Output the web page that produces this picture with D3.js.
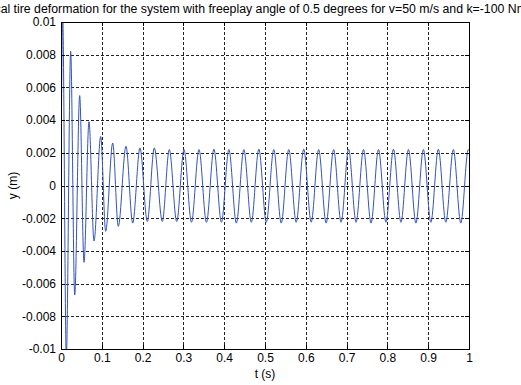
<!DOCTYPE html>
<html>
<head>
<meta charset="utf-8">
<script src="https://cdn.jsdelivr.net/npm/d3@7"></script>
<style>
  body { margin: 0; background: #fff; }
  text { font-family: "Liberation Sans", Arial, Helvetica, sans-serif; fill: #000; }
  .grid line { stroke: #222; stroke-width: 1; stroke-dasharray: 3,2; shape-rendering: crispEdges; }
  .axis path, .axis line { stroke: #000; shape-rendering: crispEdges; }
</style>
</head>
<body>
<svg id="chart" width="521" height="385"></svg>
<script>
// time of each turning point (s) and tire deformation there (m)
var tPts = [0, 0.004, 0.013, 0.0237, 0.0336, 0.0458, 0.0564, 0.0686, 0.0809, 0.0973, 0.1095,
  0.1267, 0.1404, 0.1593, 0.1757, 0.1936, 0.2115, 0.2287, 0.2483, 0.2654, 0.2836,
  0.3015, 0.3198, 0.3382, 0.3565, 0.3748, 0.3932, 0.4115, 0.4298, 0.4482, 0.4665,
  0.4849, 0.5032, 0.5215, 0.5398, 0.5582, 0.5765, 0.5949, 0.6132, 0.6315, 0.6499,
  0.6682, 0.6865, 0.7049, 0.7232, 0.7415, 0.7599, 0.7782, 0.7965, 0.8149, 0.8332,
  0.8516, 0.8699, 0.8882, 0.9065, 0.9249, 0.9432, 0.9616, 0.9799, 0.9982, 1.0];
var yPts = [0, 0.0105, -0.0105, 0.0082, -0.0067, 0.0055, -0.0047, 0.0039, -0.0034, 0.0030, -0.0028,
  0.0026, -0.0025, 0.0024, -0.0023, 0.0023, -0.0022, 0.0023, -0.0022, 0.0022, -0.0022,
  0.0022, -0.00225, 0.0022, -0.00225, 0.00222, -0.00225, 0.0022, -0.0023, 0.0022, -0.00225,
  0.00222, -0.00225, 0.0022, -0.0023, 0.0022, -0.00225, 0.00222, -0.00225, 0.0022, -0.0023,
  0.0022, -0.00225, 0.00222, -0.00225, 0.0022, -0.0023, 0.0022, -0.00225, 0.00222, -0.00225,
  0.0022, -0.0023, 0.0022, -0.00225, 0.00222, -0.00225, 0.0022, -0.0023, 0.0022, 0.00215];

var xTicks = [0, 0.1, 0.2, 0.3, 0.4, 0.5, 0.6, 0.7, 0.8, 0.9, 1];
var xTickLabels = ["0", "0.1", "0.2", "0.3", "0.4", "0.5", "0.6", "0.7", "0.8", "0.9", "1"];
var yTicks = [0.01, 0.008, 0.006, 0.004, 0.002, 0, -0.002, -0.004, -0.006, -0.008, -0.01];
var yTickLabels = ["0.01", "0.008", "0.006", "0.004", "0.002", "0", "-0.002", "-0.004", "-0.006", "-0.008", "-0.01"];

var svg = d3.select("#chart");
var pLeft = 61, pRight = 469, pTop = 22, pBottom = 349;

var x = d3.scaleLinear().domain([0, 1]).range([pLeft, pRight]);
var y = d3.scaleLinear().domain([-0.01, 0.01]).range([pBottom, pTop]);

//grid
var grid = svg.append("g").attr("class", "grid");
grid.selectAll(".gx")
  .data(xTicks.slice(1, -1))
  .enter().append("line")
  .attr("x1", function(d){ return Math.round(x(d)) + 0.5; })
  .attr("x2", function(d){ return Math.round(x(d)) + 0.5; })
  .attr("y1", pTop).attr("y2", pBottom);
grid.selectAll(".gy")
  .data(yTicks.slice(1, -1))
  .enter().append("line")
  .attr("y1", function(d){ return Math.round(y(d)) + 0.5; })
  .attr("y2", function(d){ return Math.round(y(d)) + 0.5; })
  .attr("x1", pLeft).attr("x2", pRight);

//signal
svg.append("clipPath").attr("id", "clip")
  .append("rect")
  .attr("x", pLeft).attr("y", pTop)
  .attr("width", pRight - pLeft).attr("height", pBottom - pTop);

var line = d3.line()
  .x(function(d, i){ return x(tPts[i]); })
  .y(function(d){ return y(d); })
  .curve(d3.curveMonotoneX);

svg.append("path")
  .attr("clip-path", "url(#clip)")
  .attr("d", line(yPts))
  .attr("fill", "none")
  .attr("stroke", "#3353be")
  .attr("stroke-width", 1);

//axes, ticks pointing inwards
var fs = "12px";
svg.append("g").attr("class", "axis")
  .attr("transform", "translate(0," + pBottom + ")")
  .call(d3.axisBottom(x).tickValues(xTicks).tickSize(-4).tickPadding(4)
    .tickFormat(function(d, i){ return xTickLabels[i]; }))
  .call(function(g){ g.select(".domain").remove(); })
  .selectAll("text").style("font-size", fs);

svg.append("g").attr("class", "axis")
  .attr("transform", "translate(0," + pTop + ")")
  .call(d3.axisTop(x).tickValues(xTicks).tickSize(-4).tickFormat(""))
  .call(function(g){ g.select(".domain").remove(); });

svg.append("g").attr("class", "axis")
  .attr("transform", "translate(" + pLeft + ",0)")
  .call(d3.axisLeft(y).tickValues(yTicks).tickSize(-4).tickPadding(5)
    .tickFormat(function(d, i){ return yTickLabels[i]; }))
  .call(function(g){ g.select(".domain").remove(); })
  .selectAll("text").style("font-size", fs);

svg.append("g").attr("class", "axis")
  .attr("transform", "translate(" + pRight + ",0)")
  .call(d3.axisRight(y).tickValues(yTicks).tickSize(-4).tickFormat(""))
  .call(function(g){ g.select(".domain").remove(); });

svg.selectAll(".axis").attr("font-family", null);

svg.append("rect")
  .attr("x", pLeft + 0.5).attr("y", pTop + 0.5)
  .attr("width", pRight - pLeft).attr("height", pBottom - pTop)
  .attr("fill", "none").attr("stroke", "#000");

//labels
svg.append("text")
  .attr("x", 259).attr("y", 12.5)
  .attr("text-anchor", "middle")
  .style("font-size", "12.3px")
  .text("Vertical tire deformation for the system with freeplay angle of 0.5 degrees for v=50 m/s and k=-100 Nm/rad");

svg.append("text")
  .attr("x", (pLeft + pRight) / 2).attr("y", 378)
  .attr("text-anchor", "middle")
  .style("font-size", "12px")
  .text("t (s)");

svg.append("text")
  .attr("transform", "translate(17," + ((pTop + pBottom) / 2) + ") rotate(-90)")
  .attr("text-anchor", "middle")
  .style("font-size", "12px")
  .text("y (m)");
</script>
</body>
</html>
